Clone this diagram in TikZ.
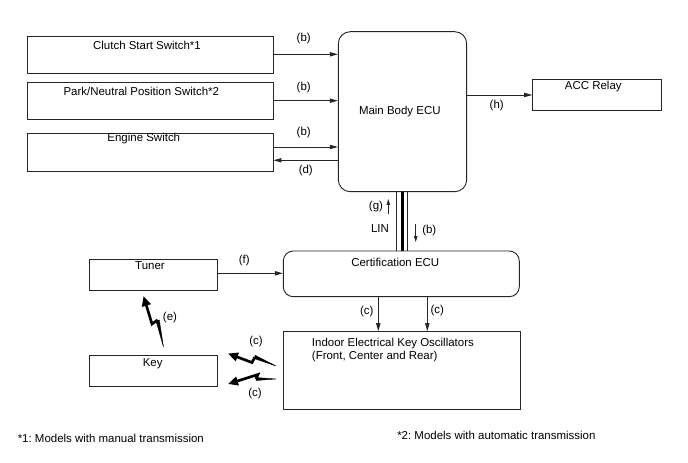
\documentclass[tikz,border=0pt]{standalone}
\usepackage{fontspec}
\setmainfont{Liberation Sans}
\usetikzlibrary{arrows.meta,fit,calc}
\begin{document}
\frenchspacing
\begin{tikzpicture}[x=0.75pt,y=-0.75pt,
  font=\fontsize{8.6pt}{10pt}\selectfont,
  box/.style={draw=black!85,line width=0.7pt,inner sep=0pt,rectangle},
  rbox/.style={box,rounded corners=9pt},
  txt/.style={inner sep=0pt,anchor=center},
  arr/.style={draw=black!85,line width=0.6pt,-{Triangle[length=6pt,width=3.2pt]}},
  bolt/.style={draw=black,line width=2pt,line join=miter,-{Triangle[length=7.5pt,width=6.5pt]}},
  taper/.style={fill=black,draw=black,line width=0.3pt}]
\useasboundingbox (0,0) rectangle (688,463);

% boxes
\node[box,fit={(27,36) (273,73)}] (clutch) {};
\node[box,fit={(27,82) (273,119)}] (park) {};
\node[box,fit={(27,133) (273,171)}] (engine) {};
\node[rbox,fit={(338.3,31.7) (466.7,191.7)}] (main) {};
\node[box,fit={(532.7,79.3) (661.7,110.7)}] (acc) {};
\node[rbox,rounded corners=7.5pt,fit={(283.3,251) (519.3,296.7)}] (cert) {};
\node[box,fit={(89.3,259) (217.7,290.7)}] (tuner) {};
\node[box,fit={(89.3,355) (217.7,386)}] (key) {};
\node[box,fit={(283.3,331.7) (520,409.3)}] (osc) {};

% box texts
\node[txt] (tclutch) at (147,45) {Clutch Start Switch*1};
\node[txt] (tpark) at (141.3,91) {Park/Neutral Position Switch*2};
\node[txt] (tengine) at (143.8,139) {Engine Switch};
\node[txt] (tmain) at (399.8,111.7) {Main Body ECU};
\node[txt] (tacc) at (593.3,86.7) {ACC Relay};
\node[txt] (tcert) at (395.3,262.7) {Certification ECU};
\node[txt] (ttuner) at (150,265.7) {Tuner};
\node[txt] (tkey) at (152.7,363.3) {Key};
\node[txt,anchor=west] (tosc1) at (311.7,343.3) {Indoor Electrical Key Oscillators};
\node[txt,anchor=west] (tosc2) at (311.7,356.7) {(Front, Center and Rear)};

% connectors
\draw[arr] (clutch.east |- 0,54.3) -- (main.west |- 0,54.3);
\draw[arr] (park.east |- 0,100.7) -- (main.west |- 0,100.7);
\draw[arr] (engine.east |- 0,147) -- (main.west |- 0,147);
\draw[arr] (main.west |- 0,160.3) -- (engine.east |- 0,160.3);
\draw[arr] (main.east |- acc.west) -- (acc.west);
\draw[arr] (tuner.east |- 0,273.3) -- (cert.west |- 0,273.3);
\draw[arr] (cert.south -| 378.3,0) -- (osc.north -| 378.3,0);
\draw[arr] (cert.south -| 427.3,0) -- (osc.north -| 427.3,0);

% LIN bus
\draw[black!85,line width=0.6pt] (main.south -| 396.7,0) -- (cert.north -| 396.7,0);
\draw[black,line width=2.6pt] (main.south -| 402.3,0) -- (cert.north -| 402.3,0);
\draw[black!85,line width=0.6pt] (main.south -| 407.6,0) -- (cert.north -| 407.6,0);
\coordinate (g1) at (388.3,214);
\coordinate (g2) at (388.3,199);
\draw[arr,-{Triangle[length=4.5pt,width=2.6pt]}] (g1) -- (g2);
\coordinate (b1) at (415.7,224);
\coordinate (b2) at (415.7,242);
\draw[arr,-{Triangle[length=4.5pt,width=2.6pt]}] (b1) -- (b2);

% wireless bolts
\coordinate (e0) at (163.5,347);
\coordinate (e1) at (157.5,320);
\coordinate (e2) at (152,324);
\coordinate (e3) at (143.5,296);
\fill[taper] (e0) -- ($(e1)+(1.8,0)$) -- ($(e1)+(-1.8,0)$) -- cycle;
\draw[bolt] (e1) -- (e2) -- (e3);

\coordinate (u0) at (276,366);
\coordinate (u1) at (255,357);
\coordinate (u2) at (252,362.5);
\coordinate (u3) at (228,353.5);
\fill[taper] (u0) -- ($(u1)+(0,-1.8)$) -- ($(u1)+(0,1.8)$) -- cycle;
\draw[bolt] (u1) -- (u2) -- (u3);

\coordinate (l0) at (276,379);
\coordinate (l1) at (256,379);
\coordinate (l2) at (258,374.5);
\coordinate (l3) at (228,384);
\fill[taper] (l0) -- ($(l1)+(0,-1.5)$) -- ($(l1)+(0,1.5)$) -- cycle;
\draw[bolt] (l1) -- (l2) -- (l3);

% labels
\node[txt] (lb1) at (303.7,39) {(b)};
\node[txt] (lb2) at (303.7,87.7) {(b)};
\node[txt] (lb3) at (303.7,132.7) {(b)};
\node[txt] (ld) at (305.8,171) {(d)};
\node[txt] (lh) at (496.7,105.7) {(h)};
\node[txt] (lg) at (376,206.7) {(g)};
\node[txt] (llin) at (380,228.3) {LIN};
\node[txt] (lb4) at (429.3,230.7) {(b)};
\node[txt] (lc1) at (366.7,311.7) {(c)};
\node[txt] (lc2) at (437.3,311) {(c)};
\node[txt] (lf) at (244.3,260.7) {(f)};
\node[txt] (le) at (170,317.3) {(e)};
\node[txt] (lc3) at (256,341.7) {(c)};
\node[txt] (lc4) at (255,393.3) {(c)};

% footnotes
\node[txt,anchor=west] (fn1) at (17.5,438.6) {*1: Models with manual transmission};
\node[txt,anchor=west] (fn2) at (397,435) {*2: Models with automatic transmission};
\end{tikzpicture}
\end{document}
